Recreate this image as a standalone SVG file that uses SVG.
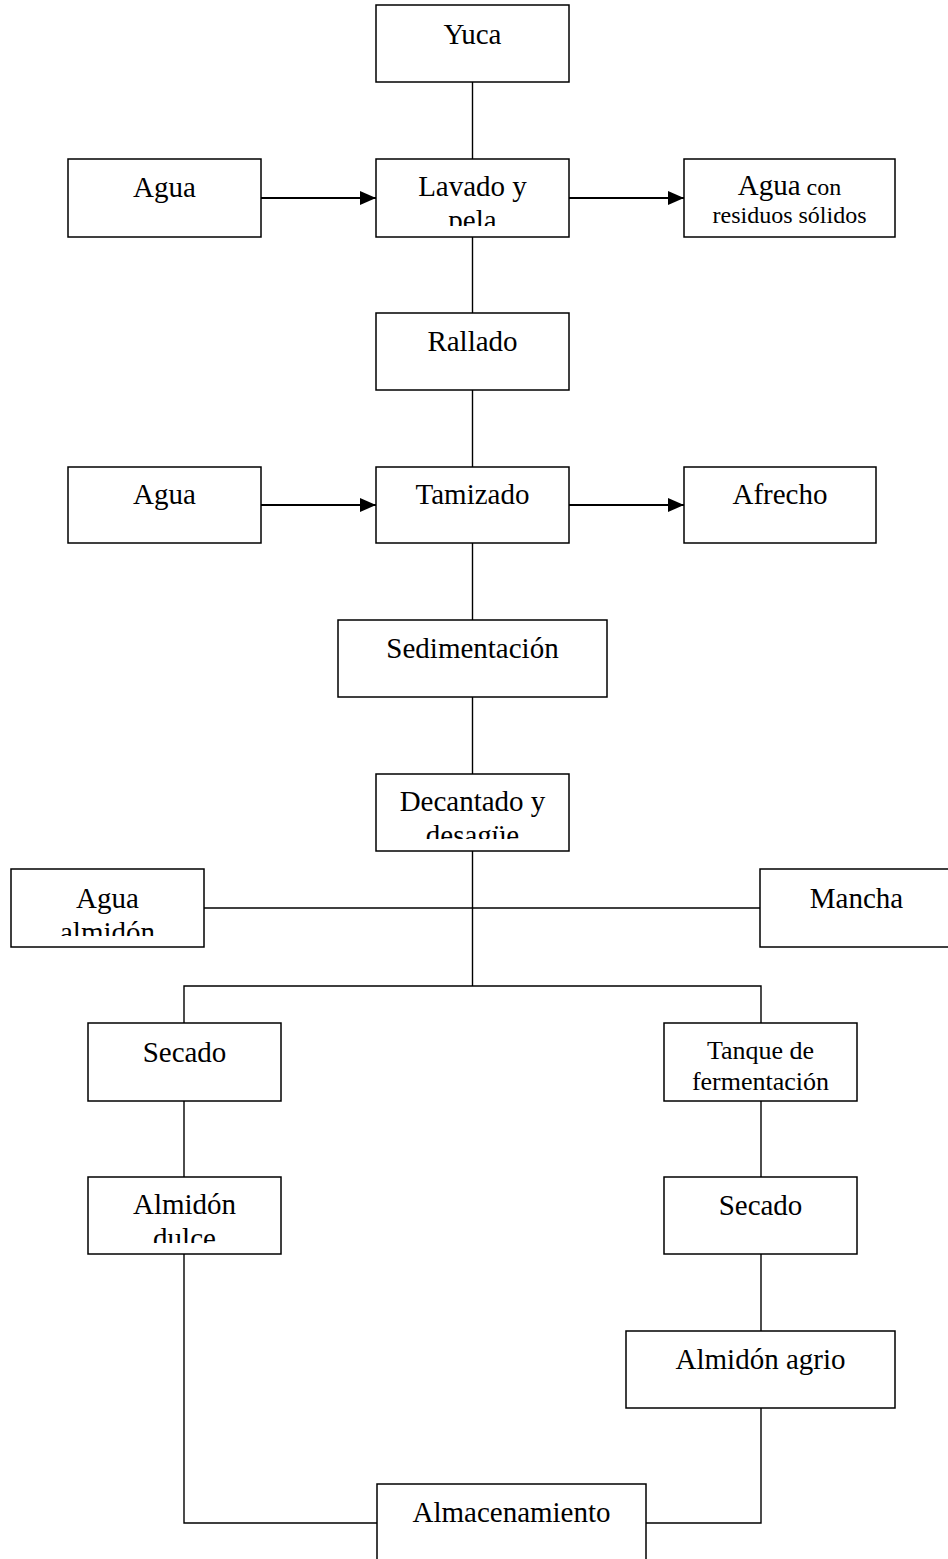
<svg xmlns="http://www.w3.org/2000/svg" width="948" height="1559" viewBox="0 0 948 1559">
<style>
.box{fill:#fff;stroke:#000;stroke-width:1.5}
.t{font-family:"Liberation Serif","Times New Roman",serif;font-size:29px;fill:#000;text-anchor:middle}
.s{font-size:24px}
.st{font-size:26px}
.ln{fill:none;stroke:#000;stroke-width:1.4}
.ar{fill:none;stroke:#000;stroke-width:2.2}
</style>
<defs>
<marker id="arr" markerUnits="userSpaceOnUse" markerWidth="16" markerHeight="14" refX="16" refY="7" orient="auto">
<path d="M0,0 L16,7 L0,14 Z" fill="#000"/>
</marker>
<clipPath id="c-lavado"><rect x="376" y="159" width="193" height="67"/></clipPath>
<clipPath id="c-decantado"><rect x="376" y="774" width="193" height="65"/></clipPath>
<clipPath id="c-aguaalm"><rect x="11" y="869" width="193" height="67"/></clipPath>
<clipPath id="c-dulce"><rect x="88" y="1177" width="193" height="66"/></clipPath>
</defs>
<g id="connectors">
<line class="ln" x1="472.5" y1="82" x2="472.5" y2="159"/>
<line class="ln" x1="472.5" y1="237" x2="472.5" y2="313"/>
<line class="ln" x1="472.5" y1="390" x2="472.5" y2="467"/>
<line class="ln" x1="472.5" y1="543" x2="472.5" y2="620"/>
<line class="ln" x1="472.5" y1="697" x2="472.5" y2="774"/>
<line class="ln" x1="472.5" y1="851" x2="472.5" y2="986"/>
<line class="ar" x1="261" y1="198" x2="376" y2="198" marker-end="url(#arr)"/>
<line class="ar" x1="569" y1="198" x2="684" y2="198" marker-end="url(#arr)"/>
<line class="ar" x1="261" y1="505" x2="376" y2="505" marker-end="url(#arr)"/>
<line class="ar" x1="569" y1="505" x2="684" y2="505" marker-end="url(#arr)"/>
<line class="ln" x1="204" y1="908" x2="760" y2="908"/>
<polyline class="ln" points="184,1023 184,986 761,986 761,1023"/>
<line class="ln" x1="184" y1="1101" x2="184" y2="1177"/>
<line class="ln" x1="761" y1="1101" x2="761" y2="1177"/>
<line class="ln" x1="761" y1="1254" x2="761" y2="1331"/>
<polyline class="ln" points="184,1254 184,1523 377,1523"/>
<polyline class="ln" points="761,1408 761,1523 646,1523"/>
</g>
<g id="yuca"><rect class="box" x="376" y="5" width="193" height="77"/><text class="t" x="472.5" y="44">Yuca</text></g>
<g id="agua1"><rect class="box" x="68" y="159" width="193" height="78"/><text class="t" x="164.5" y="197">Agua</text></g>
<g id="lavado"><rect class="box" x="376" y="159" width="193" height="78"/><g clip-path="url(#c-lavado)"><text class="t" x="472.5" y="196">Lavado y</text><text class="t" x="472.5" y="230">pela</text></g></g>
<g id="aguacon"><rect class="box" x="684" y="159" width="211" height="78"/><text class="t" x="789.5" y="195">Agua<tspan class="s"> con</tspan></text><text class="t s" x="789.5" y="223">residuos sólidos</text></g>
<g id="rallado"><rect class="box" x="376" y="313" width="193" height="77"/><text class="t" x="472.5" y="351">Rallado</text></g>
<g id="agua2"><rect class="box" x="68" y="467" width="193" height="76"/><text class="t" x="164.5" y="504">Agua</text></g>
<g id="tamizado"><rect class="box" x="376" y="467" width="193" height="76"/><text class="t" x="472.5" y="504">Tamizado</text></g>
<g id="afrecho"><rect class="box" x="684" y="467" width="192" height="76"/><text class="t" x="780" y="504">Afrecho</text></g>
<g id="sedimentacion"><rect class="box" x="338" y="620" width="269" height="77"/><text class="t" x="472.5" y="658">Sedimentación</text></g>
<g id="decantado"><rect class="box" x="376" y="774" width="193" height="77"/><g clip-path="url(#c-decantado)"><text class="t" x="472.5" y="811">Decantado y</text><text class="t" x="472.5" y="845">desagüe</text></g></g>
<g id="aguaalmidon"><rect class="box" x="11" y="869" width="193" height="78"/><g clip-path="url(#c-aguaalm)"><text class="t" x="107.5" y="908">Agua</text><text class="t" x="107.5" y="942">almidón</text></g></g>
<g id="mancha"><rect class="box" x="760" y="869" width="193" height="78"/><text class="t" x="856.5" y="908">Mancha</text></g>
<g id="secado1"><rect class="box" x="88" y="1023" width="193" height="78"/><text class="t" x="184.5" y="1062">Secado</text></g>
<g id="tanque"><rect class="box" x="664" y="1023" width="193" height="78"/><text class="t st" x="760.5" y="1059">Tanque de</text><text class="t st" x="760.5" y="1090">fermentación</text></g>
<g id="almidondulce"><rect class="box" x="88" y="1177" width="193" height="77"/><g clip-path="url(#c-dulce)"><text class="t" x="184.5" y="1214">Almidón</text><text class="t" x="184.5" y="1248">dulce</text></g></g>
<g id="secado2"><rect class="box" x="664" y="1177" width="193" height="77"/><text class="t" x="760.5" y="1215">Secado</text></g>
<g id="almidonagrio"><rect class="box" x="626" y="1331" width="269" height="77"/><text class="t" x="760.5" y="1369">Almidón agrio</text></g>
<g id="almacenamiento"><rect class="box" x="377" y="1484" width="269" height="80"/><text class="t" x="511.5" y="1522">Almacenamiento</text></g>
</svg>
